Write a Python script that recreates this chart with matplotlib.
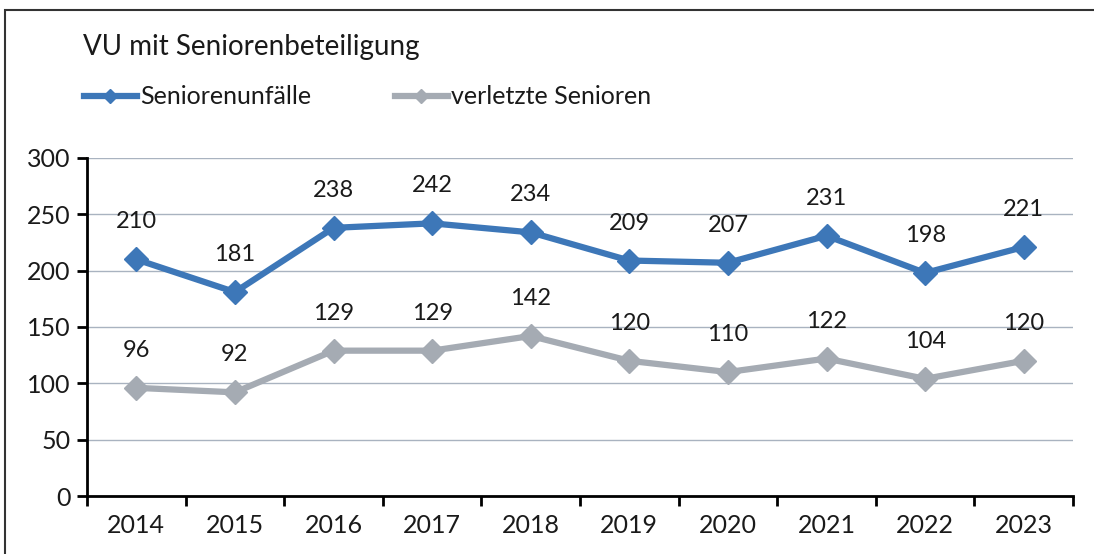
import matplotlib.pyplot as plt
from matplotlib.lines import Line2D
from matplotlib.patches import Rectangle
import numpy as np

years = ['2014', '2015', '2016', '2017', '2018', '2019', '2020', '2021', '2022', '2023']
seniorenunfaelle = [210, 181, 238, 242, 234, 209, 207, 231, 198, 221]
verletzte_senioren = [96, 92, 129, 129, 142, 120, 110, 122, 104, 120]

plt.rcParams['font.family'] = ['Lato', 'DejaVu Sans']

W, H = 1094, 554
fig = plt.figure(figsize=(W / 100, H / 100), dpi=100)
ax = fig.add_axes([87 / W, 1 - 496 / H, (1073 - 87) / W, (496 - 158) / H])

blue = '#3D77B8'
grey = '#A5ABB3'
txt = '#1a1a1a'
x = np.arange(len(years))

for vals, c in ((seniorenunfaelle, blue), (verletzte_senioren, grey)):
    ax.plot(x, vals, color=c, lw=4.5, marker='D', ms=12, mec=c, mfc=c,
            solid_joinstyle='round', zorder=3)
    for xi, v in zip(x, vals):
        ax.annotate(str(v), (xi, v), xytext=(0, 27), textcoords='offset points',
                    ha='center', va='center', fontsize=17, color=txt)

ax.set_xlim(-0.5, len(years) - 0.5)
ax.set_ylim(0, 300)
ax.set_yticks(range(0, 301, 50))
ax.set_xticks(x)
ax.set_xticklabels(years)
ax.set_xticks(np.arange(-0.5, len(years)), minor=True)
ax.tick_params(axis='x', which='major', length=0, pad=13, labelsize=18,
               labelcolor=txt)
ax.tick_params(axis='x', which='minor', length=7, width=2, direction='out')
ax.tick_params(axis='y', length=7, width=2, direction='out', labelsize=18,
               pad=5, labelcolor=txt)

ax.grid(axis='y', color='#A9B3C0', lw=1)
ax.set_axisbelow(True)
for s in ('top', 'right'):
    ax.spines[s].set_visible(False)
for s in ('left', 'bottom'):
    ax.spines[s].set_linewidth(2)

fig.text(83 / W, 1 - 47 / H, 'VU mit Seniorenbeteiligung', fontsize=20,
         va='center', ha='left', color=txt)

handles = [Line2D([], [], color=blue, lw=4.5, marker='D', ms=7),
           Line2D([], [], color=grey, lw=4.5, marker='D', ms=7)]
leg = fig.legend(handles, ['Seniorenunfälle', 'verletzte Senioren'],
                 loc='center left', bbox_to_anchor=(84 / W, 1 - 97 / H), ncol=2,
                 frameon=False, fontsize=18, handlelength=2.1, handletextpad=0.15,
                 columnspacing=3.35, borderaxespad=0, borderpad=0)
for t in leg.get_texts():
    t.set_color(txt)

fig.add_artist(Rectangle((5 / W, -0.1), 1.2, 1 - 10 / H + 0.1,
                         transform=fig.transFigure, fill=False,
                         ec='#333333', lw=1.5))

fig.savefig('out.png', dpi=100)
